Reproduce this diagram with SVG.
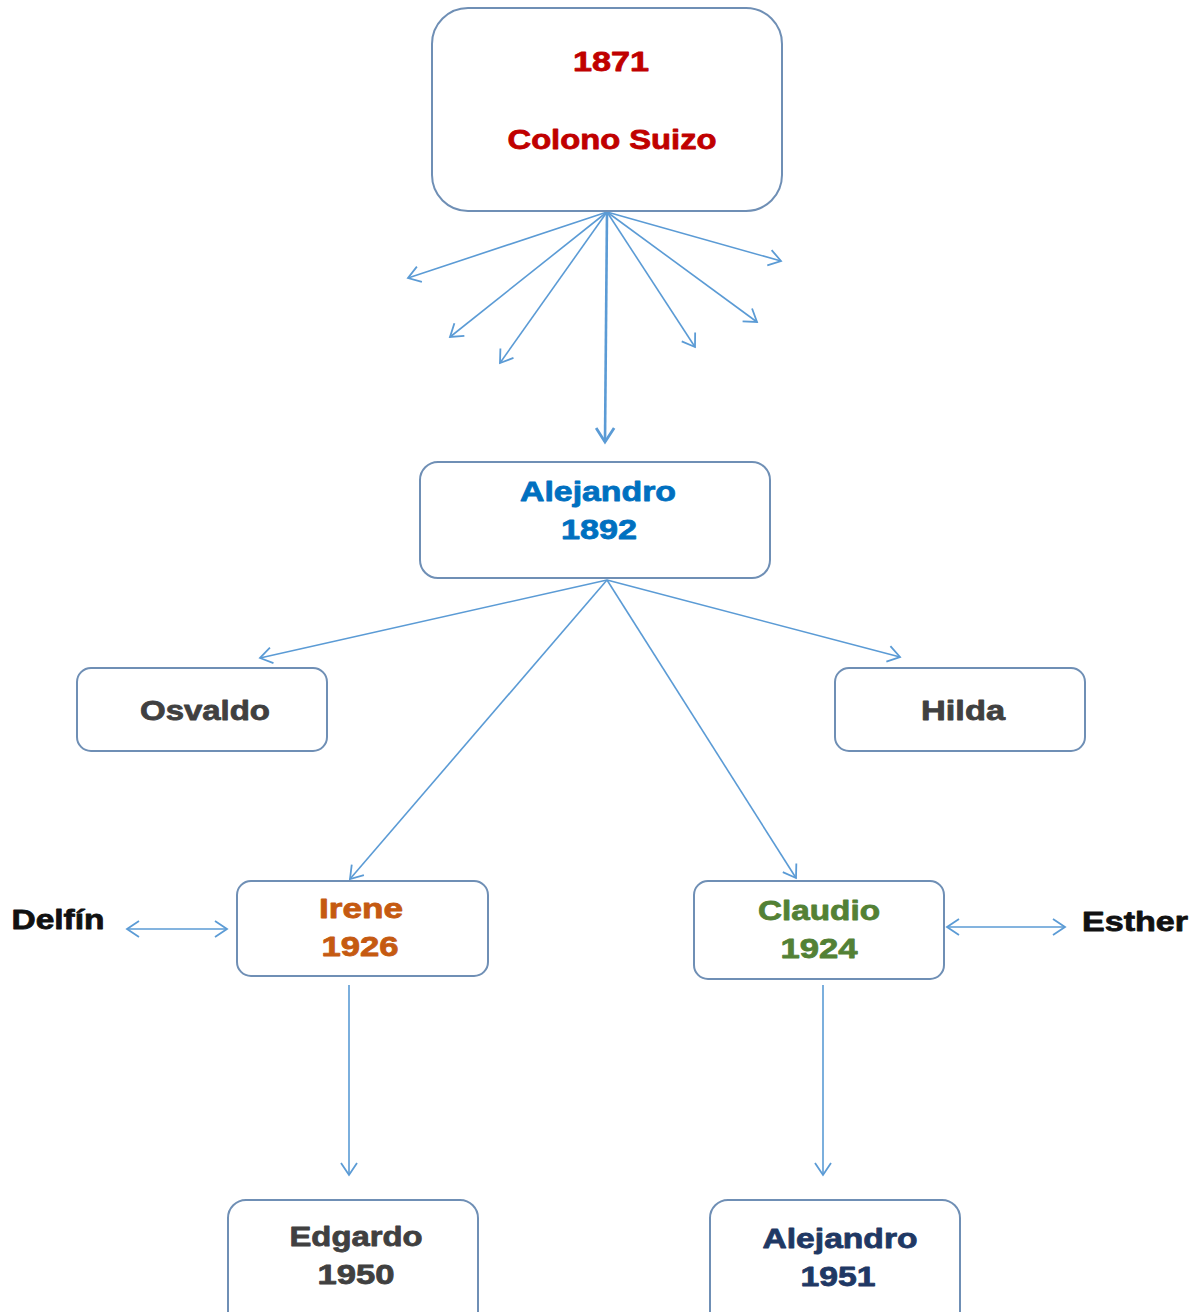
<svg xmlns="http://www.w3.org/2000/svg" width="1203" height="1312" viewBox="0 0 1203 1312">
  <style>
    .box { fill: #ffffff; stroke: #6F8FB5; stroke-width: 2; }
    .lbl { font-family: "Liberation Sans", Arial, sans-serif; font-weight: bold; font-size: 28px; text-anchor: middle; stroke-width: 0.8px; stroke-linejoin: round; }
    .link { stroke: #5B9BD5; stroke-width: 1.6; fill: none; }
    .main { stroke-width: 2.6; }
    .red { fill: #C00000; stroke: #C00000; }
    .blue { fill: #0070C0; stroke: #0070C0; }
    .grey { fill: #404040; stroke: #404040; }
    .orange { fill: #C55A11; stroke: #C55A11; }
    .green { fill: #538135; stroke: #538135; }
    .black { fill: #111111; stroke: #111111; }
    .navy { fill: #1F3864; stroke: #1F3864; }
  </style>
  <defs>
    <marker id="head" markerUnits="userSpaceOnUse" markerWidth="20" markerHeight="20" viewBox="-14 -10 16 20" refX="0" refY="0" orient="auto">
      <path d="M -12 -8 L 0 0 L -12 8" fill="none" stroke="#5B9BD5" stroke-width="1.8"/>
    </marker>
    <marker id="headBold" markerUnits="userSpaceOnUse" markerWidth="24" markerHeight="24" viewBox="-16 -12 18 24" refX="0" refY="0" orient="auto">
      <path d="M -14 -9 L 0 0 L -14 9" fill="none" stroke="#5B9BD5" stroke-width="2.8"/>
    </marker>
    <marker id="tail" markerUnits="userSpaceOnUse" markerWidth="20" markerHeight="20" viewBox="-2 -10 16 20" refX="0" refY="0" orient="auto">
      <path d="M 12 -8 L 0 0 L 12 8" fill="none" stroke="#5B9BD5" stroke-width="1.8"/>
    </marker>
  </defs>

  <!-- connectors -->
  <g id="connectors">
    <line class="link" x1="607" y1="212" x2="408" y2="278" marker-end="url(#head)"/>
    <line class="link" x1="607" y1="212" x2="450" y2="337" marker-end="url(#head)"/>
    <line class="link" x1="607" y1="212" x2="500" y2="363" marker-end="url(#head)"/>
    <line class="link main" x1="607" y1="212" x2="605" y2="442" marker-end="url(#headBold)"/>
    <line class="link" x1="607" y1="212" x2="695" y2="347" marker-end="url(#head)"/>
    <line class="link" x1="607" y1="212" x2="757" y2="322" marker-end="url(#head)"/>
    <line class="link" x1="607" y1="212" x2="781" y2="261" marker-end="url(#head)"/>

    <line class="link" x1="607" y1="580" x2="260" y2="658" marker-end="url(#head)"/>
    <line class="link" x1="607" y1="580" x2="900" y2="657" marker-end="url(#head)"/>
    <line class="link" x1="607" y1="580" x2="350" y2="879" marker-end="url(#head)"/>
    <line class="link" x1="607" y1="580" x2="796" y2="878" marker-end="url(#head)"/>

    <line class="link" x1="127" y1="929" x2="227" y2="929" marker-start="url(#tail)" marker-end="url(#head)"/>
    <line class="link" x1="947" y1="927" x2="1065" y2="927" marker-start="url(#tail)" marker-end="url(#head)"/>

    <line class="link" x1="349" y1="985" x2="349" y2="1175" marker-end="url(#head)"/>
    <line class="link" x1="823" y1="985" x2="823" y2="1175" marker-end="url(#head)"/>
  </g>

  <!-- nodes -->
  <g id="colono">
    <rect class="box" x="432" y="8" width="350" height="203" rx="36"/>
    <text class="lbl red" x="611" y="71" textLength="76" lengthAdjust="spacingAndGlyphs">1871</text>
    <text class="lbl red" x="612" y="149" textLength="209" lengthAdjust="spacingAndGlyphs">Colono Suizo</text>
  </g>

  <g id="alejandro1892">
    <rect class="box" x="420" y="462" width="350" height="116" rx="18"/>
    <text class="lbl blue" x="598" y="501" textLength="156" lengthAdjust="spacingAndGlyphs">Alejandro</text>
    <text class="lbl blue" x="599" y="539" textLength="76" lengthAdjust="spacingAndGlyphs">1892</text>
  </g>

  <g id="osvaldo">
    <rect class="box" x="77" y="668" width="250" height="83" rx="14"/>
    <text class="lbl grey" x="205" y="720" textLength="130" lengthAdjust="spacingAndGlyphs">Osvaldo</text>
  </g>

  <g id="hilda">
    <rect class="box" x="835" y="668" width="250" height="83" rx="14"/>
    <text class="lbl grey" x="963" y="720" textLength="84" lengthAdjust="spacingAndGlyphs">Hilda</text>
  </g>

  <g id="irene">
    <rect class="box" x="237" y="881" width="251" height="95" rx="14"/>
    <text class="lbl orange" x="361" y="918" textLength="84" lengthAdjust="spacingAndGlyphs">Irene</text>
    <text class="lbl orange" x="360" y="956" textLength="77" lengthAdjust="spacingAndGlyphs">1926</text>
  </g>

  <g id="claudio">
    <rect class="box" x="694" y="881" width="250" height="98" rx="14"/>
    <text class="lbl green" x="819" y="920" textLength="122" lengthAdjust="spacingAndGlyphs">Claudio</text>
    <text class="lbl green" x="819" y="958" textLength="77" lengthAdjust="spacingAndGlyphs">1924</text>
  </g>

  <g id="delfin">
    <text class="lbl black" x="58" y="929" textLength="93" lengthAdjust="spacingAndGlyphs">Delfín</text>
  </g>

  <g id="esther">
    <text class="lbl black" x="1135" y="931" textLength="106" lengthAdjust="spacingAndGlyphs">Esther</text>
  </g>

  <g id="edgardo">
    <rect class="box" x="228" y="1200" width="250" height="130" rx="18"/>
    <text class="lbl grey" x="356" y="1246" textLength="133" lengthAdjust="spacingAndGlyphs">Edgardo</text>
    <text class="lbl grey" x="356" y="1284" textLength="77" lengthAdjust="spacingAndGlyphs">1950</text>
  </g>

  <g id="alejandro1951">
    <rect class="box" x="710" y="1200" width="250" height="130" rx="18"/>
    <text class="lbl navy" x="840" y="1248" textLength="155" lengthAdjust="spacingAndGlyphs">Alejandro</text>
    <text class="lbl navy" x="838" y="1286" textLength="75" lengthAdjust="spacingAndGlyphs">1951</text>
  </g>
</svg>
